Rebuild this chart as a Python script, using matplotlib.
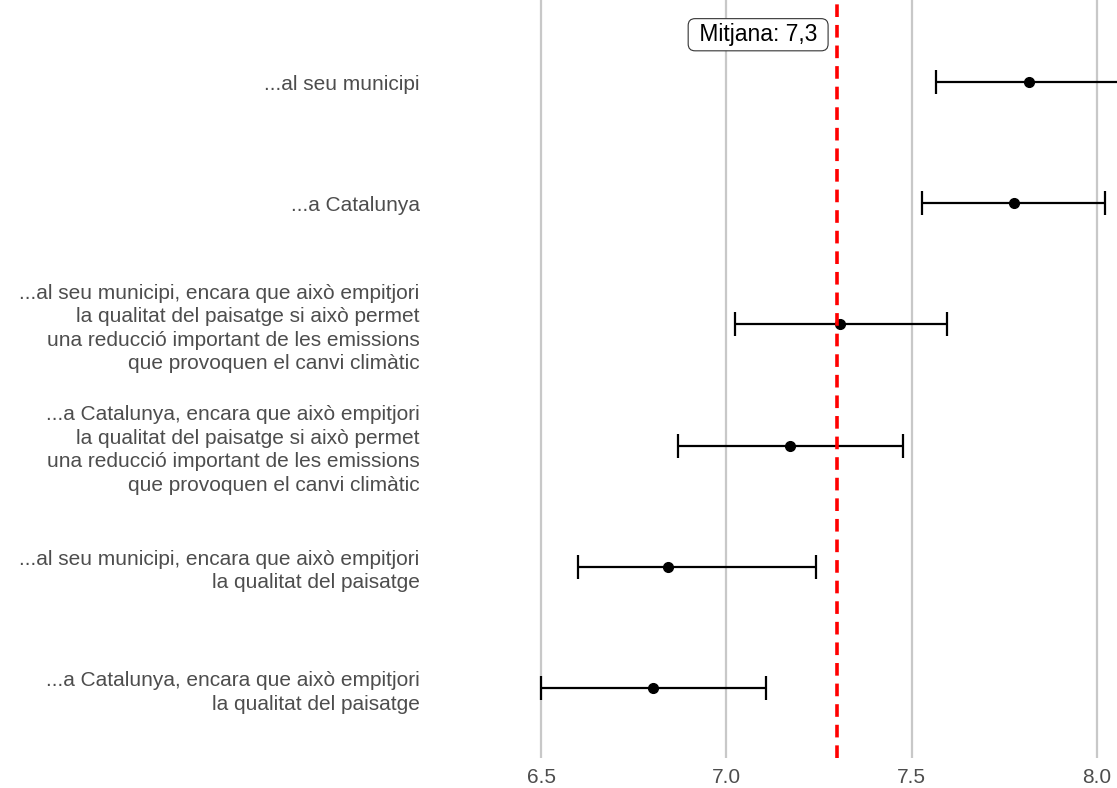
import numpy as np
import matplotlib.pyplot as plt

plt.rcParams['font.family'] = ['Liberation Sans', 'DejaVu Sans']

labels = ['...al seu municipi',
          '...a Catalunya',
          '...al seu municipi, encara que això empitjori\nla qualitat del paisatge si això permet\nuna reducció important de les emissions\nque provoquen el canvi climàtic',
          '...a Catalunya, encara que això empitjori\nla qualitat del paisatge si això permet\nuna reducció important de les emissions\nque provoquen el canvi climàtic',
          '...al seu municipi, encara que això empitjori\nla qualitat del paisatge',
          '...a Catalunya, encara que això empitjori\nla qualitat del paisatge']
means = [7.818, 7.776, 7.308, 7.173, 6.843, 6.803]
lower = [7.566, 7.528, 7.024, 6.870, 6.600, 6.500]
upper = [8.070, 8.021, 7.595, 7.478, 7.241, 7.107]
overall = 7.3

W, H = 1117, 788
fig = plt.figure(figsize=(W/100, H/100), dpi=100)
ax = fig.add_axes([428/W, (H-758)/H, 1-428/W, 758/H])

y = np.arange(len(labels))
m = np.array(means)
err = [m-np.array(lower), np.array(upper)-m]
ax.errorbar(m, y, xerr=err, fmt='o', color='black', ms=7, elinewidth=1.6,
            capsize=8.5, capthick=1.6, zorder=3)
ax.axvline(overall, color='red', ls=(0, (3.5, 2.2)), lw=2.6, zorder=4)
# spaces around the text widen the box sideways only
ax.annotate(' Mitjana: 7,3 ', xy=(overall, -0.39), xytext=(-10, 0), textcoords='offset points',
            ha='right', va='center', fontsize=16.5, color='black',
            bbox=dict(boxstyle='round,pad=0.2,rounding_size=0.3', fc='white', ec='#333333', lw=0.8))

ax.set_xlim(6.5-(541-428)/370.5, 6.5+(1117-541)/370.5)
ax.set_ylim(5+(758-688)/121.2, -82/121.2)
ax.set_xticks([6.5, 7.0, 7.5, 8.0])
ax.set_xticklabels(['6.5', '7.0', '7.5', '8.0'])
ax.set_yticks(y)
ax.set_yticklabels(labels, linespacing=1.3)
ax.tick_params(axis='both', length=0, labelsize=15, labelcolor='#4d4d4d')
ax.tick_params(axis='y', pad=6)
ax.tick_params(axis='x', pad=7)
ax.grid(axis='x', color='#c8c8c8', lw=1.6)
ax.set_axisbelow(True)
for s in ax.spines.values():
    s.set_visible(False)

fig.savefig('out.png', dpi=100)
